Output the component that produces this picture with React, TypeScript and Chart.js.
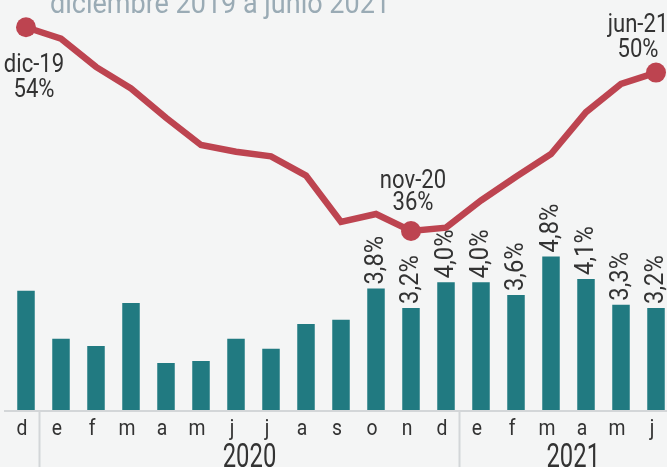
import React, { useEffect, useRef } from 'react';
import { Chart, registerables } from 'chart.js';

Chart.register(...registerables);

const months = ['d', 'e', 'f', 'm', 'a', 'm', 'j', 'j', 'a', 's', 'o', 'n', 'd', 'e', 'f', 'm', 'a', 'm', 'j'];
const barValues = [3.73, 2.24, 2.02, 3.35, 1.49, 1.55, 2.24, 1.93, 2.7, 2.83, 3.8, 3.2, 4.0, 4.0, 3.6, 4.8, 4.1, 3.3, 3.2];
const barLabels = ['', '', '', '', '', '', '', '', '', '', '3,8%', '3,2%', '4,0%', '4,0%', '3,6%', '4,8%', '4,1%', '3,3%', '3,2%'];
const lineValues = [54, 53.0, 50.5, 48.6, 46.0, 43.6, 43.0, 42.6, 40.9, 36.8, 37.5, 36, 36.3, 38.7, 40.8, 42.8, 46.5, 49.0, 50];
const pointRadii = [10, 0, 0, 0, 0, 0, 0, 0, 0, 0, 0, 10, 0, 0, 0, 0, 0, 0, 10];
const pointNotes: (string[] | null)[] = [
  ['dic-19', '54%'], null, null, null, null, null, null, null, null, null, null,
  ['nov-20', '36%'], null, null, null, null, null, null, ['jun-21', '50%'],
];
const yearNames = ['2020', '2021'];
const yearStart = [1, 13];
const titleText = 'diciembre 2019 a junio 2021';

const FONT = "Roboto, 'Noto Sans', sans-serif";
const BG = '#f4f5f5';
const TEAL = '#217a81';
const RED = '#bd4450';
const TEXT = '#333333';
const GRID = '#d3d6d8';

function drawText(ctx: CanvasRenderingContext2D, text: string, x: number, y: number, size: number, sx: number, align: CanvasTextAlign, rot = 0) {
  ctx.save();
  ctx.translate(x, y);
  if (rot) ctx.rotate(rot);
  ctx.scale(sx, 1);
  ctx.font = `${size}px ${FONT}`;
  ctx.textAlign = align;
  ctx.textBaseline = 'alphabetic';
  ctx.fillText(text, 0, 0);
  ctx.restore();
}

const overlay = {
  id: 'overlay',
  afterDatasetDraw(chart: any, args: any) {
    if (args.index !== 1) return;
    const ctx = chart.ctx;
    const meta = chart.getDatasetMeta(1);
    ctx.save();
    ctx.fillStyle = TEXT;
    meta.data.forEach((bar: any, i: number) => {
      const t = barLabels[i];
      if (!t) return;
      drawText(ctx, t, bar.x + 7, bar.y - 4, 25, 0.95, 'left', -Math.PI / 2);
    });
    ctx.restore();
  },
  afterDatasetsDraw(chart: any) {
    const ctx = chart.ctx;
    const meta = chart.getDatasetMeta(0);
    ctx.save();
    ctx.fillStyle = TEXT;
    const last = meta.data.length - 1;
    meta.data.forEach((pt: any, i: number) => {
      const note = pointNotes[i];
      if (!note) return;
      let cx: number, b1: number, b2: number;
      if (i === 0) { cx = pt.x + 8; b1 = pt.y + 44.5; b2 = pt.y + 70; }
      else if (i === last) { cx = pt.x - 18; b1 = pt.y - 40.7; b2 = pt.y - 15.7; }
      else { cx = pt.x + 2; b1 = pt.y - 42.7; b2 = pt.y - 21; }
      drawText(ctx, note[0], cx, b1, 26, 0.85, 'center');
      drawText(ctx, note[1], cx, b2, 26, 0.85, 'center');
    });
    ctx.restore();
  },
  afterDraw(chart: any) {
    const ctx = chart.ctx;
    const area = chart.chartArea;
    const xs = chart.scales.x;
    ctx.save();
    // title (partly above the visible page)
    ctx.fillStyle = '#9aabb5';
    ctx.font = `30px ${FONT}`;
    const w = ctx.measureText(titleText).width;
    drawText(ctx, titleText, 50, 13, 30, 340 / w, 'left');
    // axis line
    ctx.strokeStyle = GRID;
    ctx.lineWidth = 2;
    ctx.beginPath();
    ctx.moveTo(4, area.bottom);
    ctx.lineTo(chart.width, area.bottom);
    ctx.stroke();
    // year separators
    const sepX = yearStart.map((s) => (xs.getPixelForValue(s - 1) + xs.getPixelForValue(s)) / 2 - 4);
    sepX.forEach((x) => {
      ctx.beginPath();
      ctx.moveTo(x, area.bottom);
      ctx.lineTo(x, chart.height);
      ctx.stroke();
    });
    // month labels
    ctx.fillStyle = TEXT;
    months.forEach((m, i) => {
      drawText(ctx, m, xs.getPixelForValue(i) - 4, area.bottom + 24, 22, 0.88, 'center');
    });
    // year labels
    const rightEdge = 687;
    yearNames.forEach((n, k) => {
      const a = sepX[k];
      const b = k + 1 < sepX.length ? sepX[k + 1] : rightEdge;
      drawText(ctx, n, (a + b) / 2, chart.height, 34, 0.7, 'center');
    });
    ctx.restore();
  },
};

export default function App() {
  const ref = useRef<HTMLCanvasElement>(null);
  useEffect(() => {
    if (!ref.current) return;
    const chart = new Chart(ref.current, {
      type: 'bar',
      data: {
        labels: months,
        datasets: [
          {
            type: 'line',
            data: lineValues,
            yAxisID: 'y2',
            borderColor: RED,
            backgroundColor: RED,
            borderWidth: 6.5,
            pointRadius: pointRadii,
            pointHoverRadius: pointRadii,
            pointBackgroundColor: RED,
            pointBorderWidth: 0,
            tension: 0,
            order: 0,
            clip: false,
          } as any,
          {
            type: 'bar',
            data: barValues,
            yAxisID: 'y',
            backgroundColor: TEAL,
            barPercentage: 0.5,
            categoryPercentage: 1,
            order: 1,
          },
        ],
      },
      options: {
        responsive: false,
        animation: false,
        devicePixelRatio: 1,
        layout: { autoPadding: false, padding: { left: 8.5, right: 8.5, top: 0, bottom: 0 } },
        plugins: { legend: { display: false }, tooltip: { enabled: false } },
        scales: {
          x: {
            offset: true,
            grid: { display: false, drawTicks: false },
            border: { display: false },
            ticks: { display: false },
            afterFit: (scale: any) => { scale.height = 56; },
          },
          y: { display: false, min: 0, max: 12.76 },
          y2: { display: false, min: 20.1, max: 56.41 },
        },
      },
      plugins: [overlay],
    });
    return () => chart.destroy();
  }, []);
  return (
    <div style={{ position: 'fixed', left: 0, top: 0, width: 667, height: 467, overflow: 'hidden', background: BG }}>
      <canvas ref={ref} width={682} height={467} style={{ display: 'block' }} />
    </div>
  );
}
